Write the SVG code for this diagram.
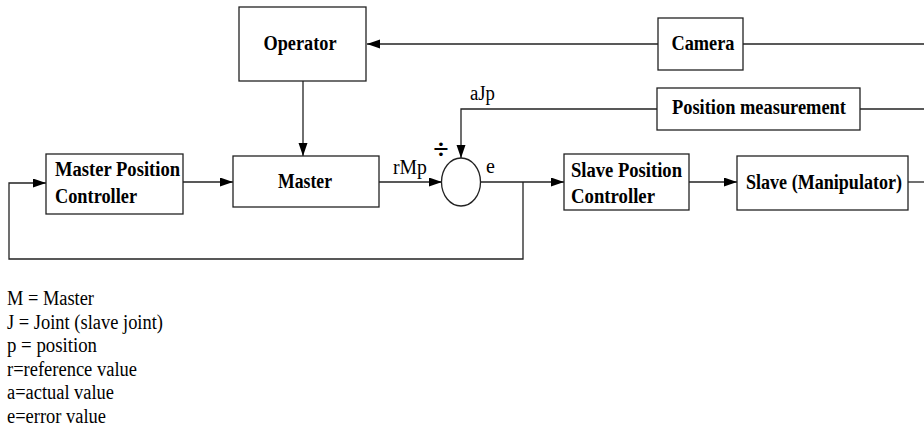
<svg xmlns="http://www.w3.org/2000/svg" width="924" height="439" viewBox="0 0 924 439">
<style>
.box{fill:#fff;stroke:#222;stroke-width:1.3}
.ln{fill:none;stroke:#222;stroke-width:1.3}
text{font-family:'Liberation Serif',serif;fill:#000}
.b{font-weight:bold;font-size:20px}
.r{font-size:20px}
</style>
<defs>
<marker id="ah" markerUnits="userSpaceOnUse" markerWidth="14" markerHeight="10" refX="13" refY="4.5" orient="auto">
<path d="M0,0 L13,4.5 L0,9 z" fill="#000"/>
</marker>
</defs>
<rect width="924" height="439" fill="#fff"/>
<g id="connectors">
<line class="ln" x1="658" y1="44" x2="367" y2="44" marker-end="url(#ah)"/>
<line class="ln" x1="743" y1="44" x2="924" y2="44"/>
<line class="ln" x1="303" y1="81" x2="303" y2="156" marker-end="url(#ah)"/>
<line class="ln" x1="183" y1="182" x2="233" y2="182" marker-end="url(#ah)"/>
<line class="ln" x1="379" y1="182" x2="442" y2="182" marker-end="url(#ah)"/>
<path class="ln" d="M657,109 H461 V158" marker-end="url(#ah)"/>
<line class="ln" x1="860" y1="109" x2="924" y2="109"/>
<line class="ln" x1="481" y1="182" x2="564" y2="182" marker-end="url(#ah)"/>
<path class="ln" d="M523,182 V259 H9 V183 H46" marker-end="url(#ah)"/>
<line class="ln" x1="689" y1="182" x2="737" y2="182" marker-end="url(#ah)"/>
<line class="ln" x1="908" y1="182" x2="924" y2="182"/>
</g>
<g id="operator">
<rect class="box" x="239" y="7" width="127" height="74"/>
<text class="b" x="300" y="50" text-anchor="middle" textLength="73" lengthAdjust="spacingAndGlyphs">Operator</text>
</g>
<g id="camera">
<rect class="box" x="658" y="18" width="85" height="52"/>
<text class="b" x="703" y="50" text-anchor="middle" textLength="63" lengthAdjust="spacingAndGlyphs">Camera</text>
</g>
<g id="position-measurement">
<rect class="box" x="657" y="88" width="203" height="42"/>
<text class="b" x="759" y="114" text-anchor="middle" textLength="174" lengthAdjust="spacingAndGlyphs">Position measurement</text>
</g>
<g id="master-position-controller">
<rect class="box" x="46" y="154" width="137" height="60"/>
<text class="b" x="55" y="176" textLength="125" lengthAdjust="spacingAndGlyphs">Master Position</text>
<text class="b" x="55" y="203" textLength="82" lengthAdjust="spacingAndGlyphs">Controller</text>
</g>
<g id="master">
<rect class="box" x="233" y="156" width="146" height="51"/>
<text class="b" x="305" y="188" text-anchor="middle" textLength="54" lengthAdjust="spacingAndGlyphs">Master</text>
</g>
<g id="summing-junction">
<ellipse class="box" cx="461" cy="182" rx="19.5" ry="24"/>
<text x="441" y="158" text-anchor="middle" font-size="28" font-weight="bold">÷</text>
</g>
<g id="slave-position-controller">
<rect class="box" x="564" y="154" width="125" height="56"/>
<text class="b" x="571" y="177" textLength="111" lengthAdjust="spacingAndGlyphs">Slave Position</text>
<text class="b" x="571" y="203" textLength="84" lengthAdjust="spacingAndGlyphs">Controller</text>
</g>
<g id="slave">
<rect class="box" x="737" y="156" width="171" height="54"/>
<text class="b" x="746" y="189" font-size="19" textLength="156" lengthAdjust="spacingAndGlyphs">Slave (Manipulator)</text>
</g>
<g id="labels">
<text class="r" x="393" y="174" textLength="34" lengthAdjust="spacingAndGlyphs">rMp</text>
<text class="r" x="470" y="100" textLength="25" lengthAdjust="spacingAndGlyphs">aJp</text>
<text class="r" x="486" y="173">e</text>
</g>
<g id="legend">
<text class="r" x="7" y="305" textLength="87" lengthAdjust="spacingAndGlyphs">M = Master</text>
<text class="r" x="7" y="329" textLength="156" lengthAdjust="spacingAndGlyphs">J = Joint (slave joint)</text>
<text class="r" x="7" y="352" textLength="90" lengthAdjust="spacingAndGlyphs">p = position</text>
<text class="r" x="7" y="376" textLength="130" lengthAdjust="spacingAndGlyphs">r=reference value</text>
<text class="r" x="7" y="399" textLength="107" lengthAdjust="spacingAndGlyphs">a=actual value</text>
<text class="r" x="7" y="423" textLength="99" lengthAdjust="spacingAndGlyphs">e=error value</text>
</g>
</svg>
